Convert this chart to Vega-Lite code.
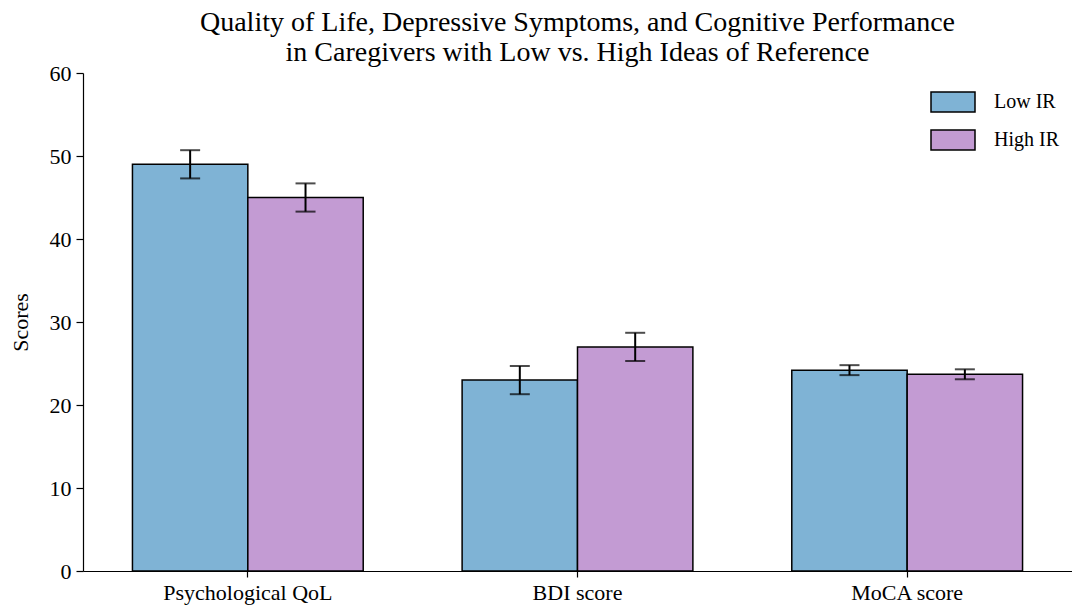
{
  "$schema": "https://vega.github.io/schema/vega-lite/v6.json",
  "width": 989,
  "height": 498,
  "autosize": {"type": "none"},
  "padding": {"left": 83, "top": 73, "right": 0, "bottom": 34},
  "background": "white",
  "config": {
    "font": "Liberation Serif",
    "view": {"stroke": null},
    "axis": {"labelFont": "Liberation Serif", "titleFont": "Liberation Serif", "labelColor": "#000", "titleColor": "#000", "domainColor": "#000", "tickColor": "#000", "grid": false, "domainWidth": 1.2, "tickWidth": 1.2},
    "legend": {"labelFont": "Liberation Serif"}
  },
  "title": {
    "text": ["Quality of Life, Depressive Symptoms, and Cognitive Performance", "in Caregivers with Low vs. High Ideas of Reference"],
    "font": "Liberation Serif",
    "fontSize": 28,
    "fontWeight": "normal",
    "color": "#000",
    "anchor": "middle",
    "offset": -5,
    "lineHeight": 30
  },
  "data": {
    "values": [
      {"measure": "Psychological QoL", "group": "Low IR", "mean": 49.0, "lo": 47.3, "hi": 50.7},
      {"measure": "Psychological QoL", "group": "High IR", "mean": 45.0, "lo": 43.3, "hi": 46.7},
      {"measure": "BDI score", "group": "Low IR", "mean": 23.0, "lo": 21.3, "hi": 24.7},
      {"measure": "BDI score", "group": "High IR", "mean": 27.0, "lo": 25.3, "hi": 28.7},
      {"measure": "MoCA score", "group": "Low IR", "mean": 24.2, "lo": 23.6, "hi": 24.8},
      {"measure": "MoCA score", "group": "High IR", "mean": 23.7, "lo": 23.1, "hi": 24.3}
    ]
  },
  "encoding": {
    "x": {
      "field": "measure", "type": "nominal",
      "sort": ["Psychological QoL", "BDI score", "MoCA score"],
      "scale": {"paddingInner": 0.3, "paddingOuter": 0.15},
      "axis": {"title": null, "labelAngle": 0, "labelFontSize": 22, "tickSize": 6, "labelPadding": 5}
    },
    "xOffset": {"field": "group", "type": "nominal", "sort": ["Low IR", "High IR"], "scale": {"paddingInner": 0, "paddingOuter": 0}}
  },
  "layer": [
    {
      "mark": {"type": "bar", "stroke": "#000", "strokeWidth": 1.5},
      "encoding": {
        "y": {
          "field": "mean", "type": "quantitative",
          "scale": {"domain": [0, 60]},
          "axis": {"title": "Scores", "titleFontSize": 22, "titleFontWeight": "normal", "labelFontSize": 22, "values": [0, 10, 20, 30, 40, 50, 60], "labelOverlap": false, "tickSize": 7, "labelPadding": 5, "titlePadding": 17}
        },
        "color": {
          "field": "group", "type": "nominal",
          "sort": ["Low IR", "High IR"],
          "scale": {"domain": ["Low IR", "High IR"], "range": ["#7fb3d5", "#c39bd3"]},
          "legend": {
            "title": null, "orient": "none", "legendX": 859, "legendY": 18,
            "symbolType": "M-2.2,-1H2.2V1H-2.2Z", "symbolSize": 400,
            "symbolStrokeColor": "#000", "symbolStrokeWidth": 1.5,
            "labelFontSize": 20, "rowPadding": 12, "labelOffset": 30,
            "symbolOpacity": 1
          }
        }
      }
    },
    {
      "mark": {"type": "rule", "color": "#000", "strokeWidth": 2},
      "encoding": {
        "y": {"field": "lo", "type": "quantitative"},
        "y2": {"field": "hi"}
      }
    },
    {
      "mark": {"type": "tick", "orient": "horizontal", "color": "#000", "size": 20, "thickness": 2},
      "encoding": {"y": {"field": "lo", "type": "quantitative"}}
    },
    {
      "mark": {"type": "tick", "orient": "horizontal", "color": "#000", "size": 20, "thickness": 2},
      "encoding": {"y": {"field": "hi", "type": "quantitative"}}
    }
  ]
}
